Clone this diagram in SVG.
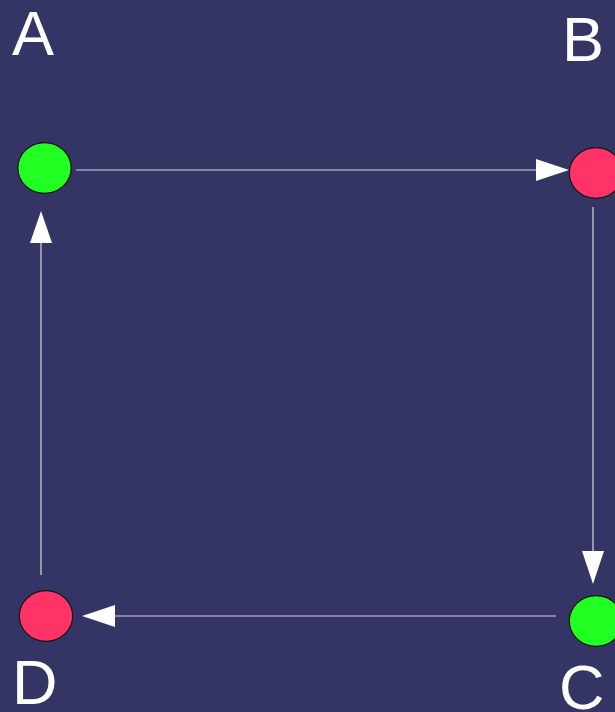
<svg xmlns="http://www.w3.org/2000/svg" width="615" height="712" viewBox="0 0 615 712">
<style>
.lbl{font-family:"Liberation Sans",Arial,sans-serif;font-size:63px;fill:#ffffff}
.edge{stroke:#d8d8e0;stroke-width:1.2;fill:none}
.head{fill:#ffffff}
.n{stroke:#111111;stroke-width:1.2}
.g{fill:#22ff22}
.r{fill:#ff3366}
</style>
<rect width="615" height="712" fill="#343465"/>
<g id="connectors">
<line class="edge" x1="76" y1="170" x2="537" y2="170"/>
<polygon class="head" points="569,170 536,159 536,181"/>
<line class="edge" x1="593" y1="207" x2="593" y2="552"/>
<polygon class="head" points="593,584 582,551 604,551"/>
<line class="edge" x1="556" y1="616" x2="115" y2="616"/>
<polygon class="head" points="82,616 115,605 115,627"/>
<line class="edge" x1="41" y1="575" x2="41" y2="243"/>
<polygon class="head" points="41,211 30,243 52,243"/>
</g>
<g id="A"><ellipse class="n g" cx="44.5" cy="168" rx="26.7" ry="25.3"/><text class="lbl" x="12" y="55">A</text></g>
<g id="B"><ellipse class="n r" cx="596" cy="173" rx="26.7" ry="25.3"/><text class="lbl" x="562" y="61">B</text></g>
<g id="C"><ellipse class="n g" cx="596" cy="621" rx="26.7" ry="25.3"/><text class="lbl" x="559" y="709">C</text></g>
<g id="D"><ellipse class="n r" cx="46" cy="616" rx="26.7" ry="25.3"/><text class="lbl" x="12" y="704">D</text></g>
</svg>
